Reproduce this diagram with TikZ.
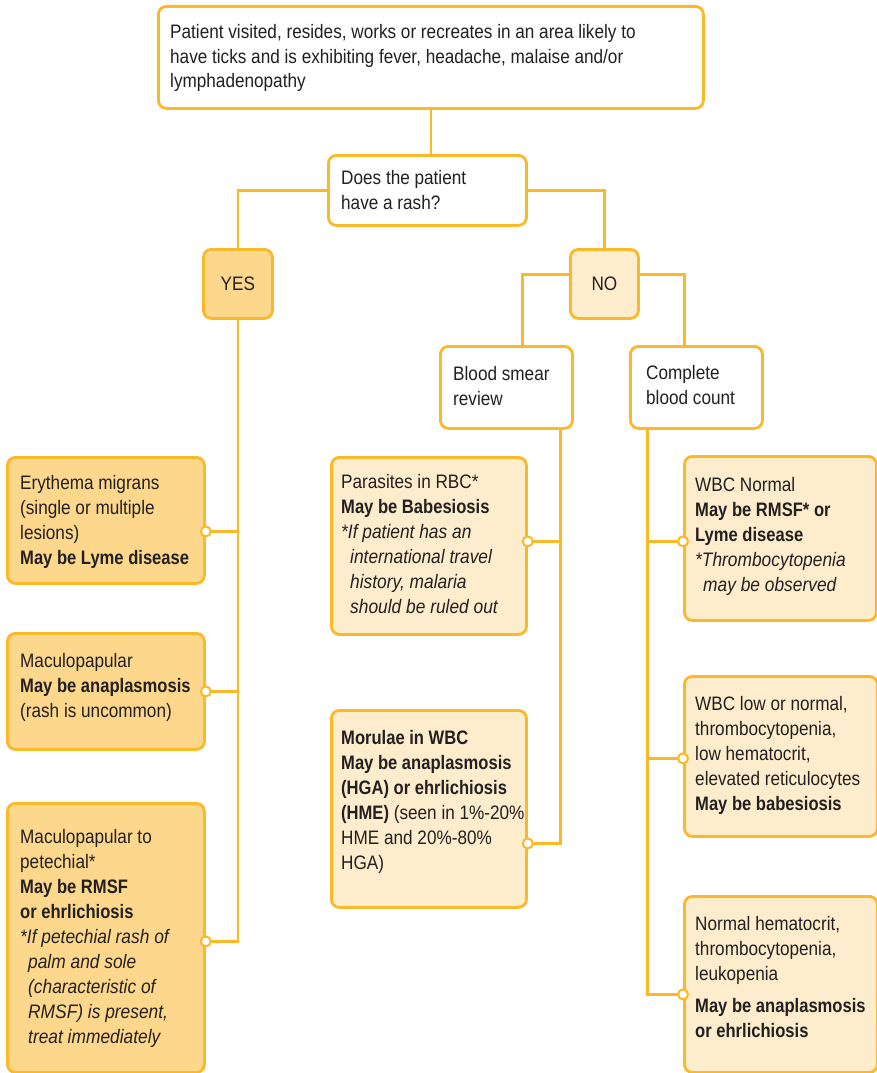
\documentclass[tikz,border=0pt]{standalone}
\usepackage{fontspec}
\setmainfont{Liberation Sans}[UprightFeatures={FakeStretch=0.88},BoldFeatures={FakeStretch=0.85},ItalicFeatures={FakeStretch=0.89},BoldItalicFeatures={FakeStretch=0.85}]
\usetikzlibrary{calc}
\definecolor{ora}{HTML}{FBB829}
\definecolor{darkfill}{HTML}{FDD78B}
\definecolor{lightfill}{HTML}{FEEDCC}
\definecolor{ink}{HTML}{231F20}
\newcommand{\boxtext}[2][300pt]{\begin{minipage}[t]{#1}\raggedright #2\end{minipage}}
\begin{document}
\begin{tikzpicture}[x=1pt,y=-1pt,
  box/.style={draw=ora, line width=2.8pt, rounded corners=8pt, inner sep=0pt, anchor=north west},
  wbox/.style={box, fill=white},
  dbox/.style={box, fill=darkfill},
  lbox/.style={box, fill=lightfill},
  txt/.style={inner sep=0pt, anchor=base west, text=ink, font=\fontsize{19.5}{25}\selectfont},
  conn/.style={draw=ora, line width=2.8pt},
  dot/.style={circle, draw=ora, fill=white, line width=2pt, inner sep=0pt, minimum size=10pt}]
\useasboundingbox (0,0) rectangle (877,1073);
% boxes
\node[wbox, minimum width=545pt, minimum height=102pt] (top) at (157,5) {};
\node[wbox, minimum width=198pt, minimum height=70pt] (q) at (327,154) {};
\node[dbox, minimum width=69pt, minimum height=69pt] (yes) at (202,248) {};
\node[lbox, minimum width=68pt, minimum height=69pt] (no) at (569,248) {};
\node[wbox, minimum width=132pt, minimum height=82pt] (bs) at (439,345) {};
\node[wbox, minimum width=132pt, minimum height=82pt] (cbc) at (629,345) {};
\node[dbox, minimum width=197pt, minimum height=126pt] (ery) at (6,456) {};
\node[dbox, minimum width=197pt, minimum height=116pt] (mac) at (6,632) {};
\node[dbox, minimum width=197pt, minimum height=269pt] (mp) at (6,802) {};
\node[lbox, minimum width=195pt, minimum height=177pt] (par) at (330,456) {};
\node[lbox, minimum width=195pt, minimum height=197pt] (mor) at (330,709) {};
\node[lbox, minimum width=192pt, minimum height=164pt] (wn) at (683,455) {};
\node[lbox, minimum width=193pt, minimum height=160pt] (wl) at (683,675) {};
\node[lbox, minimum width=193pt, minimum height=176pt] (nh) at (683,895) {};
% texts
\node[txt] (toptx) at (170,38) {\boxtext[600pt]{Patient visited, resides, works or recreates in an area likely to\\ have ticks and is exhibiting fever, headache, malaise and/or\\ lymphadenopathy}};
\node[txt] (qtx) at (341,184) {\boxtext{Does the patient\\ have a rash?}};
\node[text=ink, font=\fontsize{19.5}{25}\selectfont] (yestx) at (yes.center) {YES};
\node[text=ink, font=\fontsize{19.5}{25}\selectfont] (notx) at (no.center) {NO};
\node[txt] (bstx) at (453,380) {\boxtext{Blood smear\\ review}};
\node[txt] (cbctx) at (646,379) {\boxtext{Complete\\ blood count}};
\node[txt] (erytx) at (20,489) {\boxtext{Erythema migrans\\ (single or multiple\\ lesions)\\ \textbf{May be Lyme disease}}};
\node[txt] (mactx) at (20,667) {\boxtext{Maculopapular\\ \textbf{May be anaplasmosis}\\ (rash is uncommon)}};
\node[txt] (mptx) at (20,843) {\boxtext{Maculopapular to\\ petechial*\\ \textbf{May be RMSF}\\ \textbf{or ehrlichiosis}\\ \textit{*If petechial rash of}\\ \hspace*{8pt}\textit{palm and sole}\\ \hspace*{8pt}\textit{(characteristic of}\\ \hspace*{8pt}\textit{RMSF) is present,}\\ \hspace*{8pt}\textit{treat immediately}}};
\node[txt] (partx) at (341,488) {\boxtext{Parasites in RBC*\\ \textbf{May be Babesiosis}\\ \textit{*If patient has an}\\ \hspace*{9pt}\textit{international travel}\\ \hspace*{9pt}\textit{history, malaria}\\ \hspace*{9pt}\textit{should be ruled out}}};
\node[txt] (mortx) at (341,744) {\boxtext{\textbf{Morulae in WBC}\\ \textbf{May be anaplasmosis}\\ \textbf{(HGA) or ehrlichiosis}\\ \textbf{(HME)} (seen in 1\%-20\%\\ HME and 20\%-80\%\\ HGA)}};
\node[txt] (wntx) at (695,491) {\boxtext{WBC Normal\\ \textbf{May be RMSF* or}\\ \textbf{Lyme disease}\\ \textit{*Thrombocytopenia}\\ \hspace*{8pt}\textit{may be observed}}};
\node[txt] (wltx) at (695,710) {\boxtext{WBC low or normal,\\ thrombocytopenia,\\ low hematocrit,\\ elevated reticulocytes\\ \textbf{May be babesiosis}}};
\node[txt] (nhtx) at (695,930) {\boxtext{Normal hematocrit,\\ thrombocytopenia,\\ leukopenia\\[7pt] \textbf{May be anaplasmosis}\\ \textbf{or ehrlichiosis}}};
% connection points
\coordinate (p1) at ($(ery.east)+(0,11)$);
\coordinate (p2) at (mac.east);
\coordinate (p3) at ($(mp.east)+(0,3.5)$);
\coordinate (p4) at ($(par.east)+(0,-4.5)$);
\coordinate (p5) at ($(mor.east)+(0,34.5)$);
\coordinate (p6) at ($(wn.west)+(0,3)$);
\coordinate (p7) at ($(wl.west)+(0,2)$);
\coordinate (p8) at ($(nh.west)+(0,10)$);
\coordinate (noL) at ($(no.west)+(0,-9.5)$);
\coordinate (noR) at ($(no.east)+(0,-9.5)$);
\coordinate (bsN) at ($(bs.north)+(16,0)$);
\coordinate (cbcN) at ($(cbc.north)+(-12,0)$);
\coordinate (bsx) at ($(bs.south)+(54,0)$);
\coordinate (cbx) at ($(cbc.south)+(-49,0)$);
% connectors
\draw[conn] (top.south) -- (top.south |- q.north);
\draw[conn] (q.west) -| (yes.north);
\draw[conn] (q.east) -| (no.north);
\draw[conn] (noL) -| (bsN);
\draw[conn] (noR) -| (cbcN);
\draw[conn] (yes.south) |- (p3);
\draw[conn] (p1) -- (p1 -| yes.south);
\draw[conn] (p2) -- (p2 -| yes.south);
\draw[conn] (bsx) |- (p5);
\draw[conn] (p4) -- (p4 -| bsx);
\draw[conn] (cbx) |- (p8);
\draw[conn] (p6) -- (p6 -| cbx);
\draw[conn] (p7) -- (p7 -| cbx);
% dots
\node[dot] (d1) at (p1) {};
\node[dot] (d2) at (p2) {};
\node[dot] (d3) at (p3) {};
\node[dot] (d4) at (p4) {};
\node[dot] (d5) at (p5) {};
\node[dot] (d6) at (p6) {};
\node[dot] (d7) at (p7) {};
\node[dot] (d8) at (p8) {};
\end{tikzpicture}
\end{document}
